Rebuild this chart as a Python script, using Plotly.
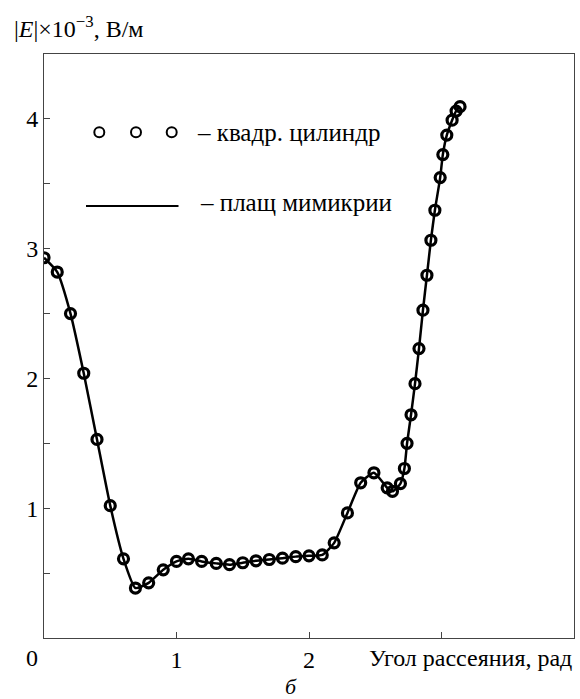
import plotly.graph_objects as go

# Scattering angle, rad
angle = [0.00, 0.10, 0.20, 0.30, 0.40, 0.50, 0.60, 0.69, 0.79, 0.90,
         1.00, 1.09, 1.19, 1.30, 1.40, 1.50, 1.60, 1.70, 1.80, 1.90,
         2.00, 2.10, 2.19, 2.29, 2.39, 2.49, 2.59, 2.63, 2.69, 2.72,
         2.74, 2.77, 2.80, 2.83, 2.86, 2.89, 2.92, 2.95, 2.99, 3.01,
         3.04, 3.08, 3.11, 3.14]
# |E| x 1e-3, V/m  — square cylinder (circles)
e_cylinder = [2.93, 2.82, 2.50, 2.04, 1.53, 1.02, 0.61, 0.385, 0.425, 0.525,
              0.59, 0.61, 0.59, 0.575, 0.565, 0.58, 0.595, 0.605, 0.615, 0.627,
              0.633, 0.64, 0.733, 0.964, 1.196, 1.273, 1.157, 1.13, 1.19, 1.306,
              1.50, 1.72, 1.96, 2.23, 2.526, 2.795, 3.065, 3.296, 3.548, 3.725,
              3.875, 3.99, 4.06, 4.094]
# mimicry cloak (solid line)
e_cloak = list(e_cylinder)

x_major = [1, 2]
x_minor = [3]
y_major = [1, 2, 3, 4]
y_minor = [0.5, 1.5, 2.5, 3.5]

FONT = "Liberation Serif, Times New Roman, Times, serif"
FS = 24

fig = go.Figure()
fig.add_trace(go.Scatter(x=angle, y=e_cloak, mode="lines",
                         line=dict(color="black", width=2.5, shape="spline", smoothing=0.5),
                         showlegend=False, hoverinfo="skip"))
fig.add_trace(go.Scatter(x=angle, y=e_cylinder, mode="markers",
                         marker=dict(symbol="circle-open", size=10, color="black",
                                     line=dict(color="black", width=3.2)),
                         showlegend=False, hoverinfo="skip"))

axis_common = dict(showgrid=False, zeroline=False, showline=True, linecolor="#444",
                   linewidth=1, mirror=True, ticks="inside", ticklen=6, tickwidth=1,
                   tickcolor="#444", tickfont=dict(family=FONT, size=FS, color="black"))

fig.update_xaxes(range=[0, 4], tickmode="array", tickvals=x_major,
                 minor=dict(tickmode="array", tickvals=x_minor, ticks="inside", ticklen=6,
                            tickwidth=1, tickcolor="#444", showgrid=False),
                 **axis_common)
fig.update_yaxes(range=[0, 4.5], tickmode="array", tickvals=y_major,
                 minor=dict(tickmode="array", tickvals=y_minor, ticks="inside", ticklen=6,
                            tickwidth=1, tickcolor="#444", showgrid=False),
                 **axis_common)

W, H = 580, 699
ml, mr, mt, mb = 44, 6, 54, 61
pw, ph = W - ml - mr, H - mt - mb

def px(xp):
    return (xp - ml) / pw

def py(yp):
    return (H - mb - yp) / ph

shapes = []
for cx in (99.3, 136.0, 171.7):
    shapes.append(dict(type="circle", xref="paper", yref="paper", xsizemode="pixel",
                       ysizemode="pixel", xanchor=px(cx), yanchor=py(132.3),
                       x0=-5, x1=5, y0=-5, y1=5, line=dict(color="black", width=2)))
shapes.append(dict(type="line", xref="paper", yref="paper", x0=px(86), x1=px(178.5),
                   y0=py(206), y1=py(206), line=dict(color="black", width=2)))

annotations = [
    dict(text="– квадр. цилиндр", xref="paper", yref="paper", x=px(195), y=py(132.3),
         xanchor="left", yanchor="middle", showarrow=False,
         font=dict(family=FONT, size=25, color="black")),
    dict(text="– плащ мимикрии", xref="paper", yref="paper", x=px(198), y=py(202),
         xanchor="left", yanchor="middle", showarrow=False,
         font=dict(family=FONT, size=25, color="black")),
    dict(text="0", xref="x", yref="paper", x=0, y=0, xshift=-12, yshift=-20,
         xanchor="center", yanchor="middle", showarrow=False,
         font=dict(family=FONT, size=FS, color="black")),
    dict(text="Угол рассеяния, рад", xref="paper", yref="paper", x=1, y=0, yshift=-20,
         xanchor="right", yanchor="middle", showarrow=False,
         font=dict(family=FONT, size=FS, color="black")),
    dict(text="<i>б</i>", xref="paper", yref="paper", x=px(291), y=0, yshift=-48,
         xanchor="center", yanchor="middle", showarrow=False,
         font=dict(family=FONT, size=22, color="black")),
    dict(text="|<i>E</i>|×10<sup>−3</sup>, В/м", xref="paper", yref="paper", x=px(12),
         y=1, yshift=10, xanchor="left", yanchor="bottom", showarrow=False,
         font=dict(family=FONT, size=FS, color="black")),
]

fig.update_layout(width=W, height=H, margin=dict(l=ml, r=mr, t=mt, b=mb),
                  paper_bgcolor="white", plot_bgcolor="white", showlegend=False,
                  shapes=shapes, annotations=annotations, hovermode=False,
                  font=dict(family=FONT, size=FS, color="black"))

fig.write_html("out.html", config={"displayModeBar": False},
               post_script="document.body.style.margin='0px';document.body.style.padding='0px';")
